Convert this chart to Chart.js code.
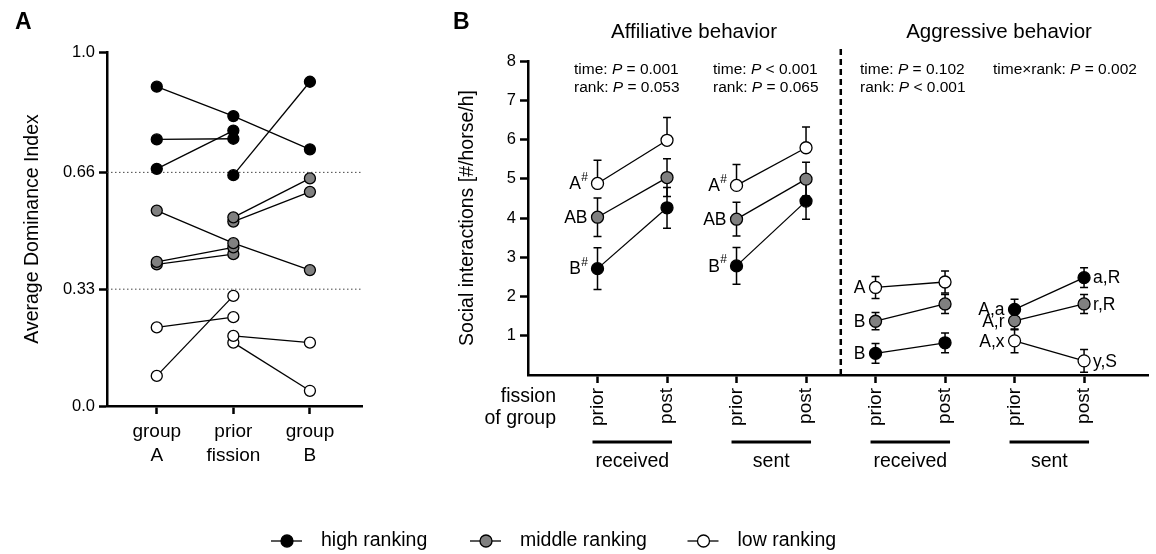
<!DOCTYPE html>
<html>
<head>
<meta charset="utf-8">
<title>Dominance and social interactions</title>
<script src="https://cdn.jsdelivr.net/npm/chart.js@4.4.1/dist/chart.umd.min.js"></script>
<style>
  body { margin: 0; background: #fff; }
  #wrap { position: relative; width: 1156px; height: 554px; }
  #wrap canvas { position: absolute; left: 0; top: 0; }
</style>
</head>
<body>
<div id="wrap">
  <canvas id="chartA" width="1156" height="554"></canvas>
  <canvas id="chartB" width="1156" height="554"></canvas>
</div>
<script>
// ---- Panel A: average dominance index per horse (group A / prior fission / group B) ----
const stagesA = [['group', 'A'], ['prior', 'fission'], ['group', 'B']];
const ticksA = [0, 0.33, 0.66, 1.0];
const thresholdsA = [0.33, 0.66];
// one row per horse, null = horse not in that group
const highA = [[0.902, 0.819, 0.725], [0.753, 0.755, null], [0.670, 0.778, null], [null, 0.652, 0.916]];
const middleA = [[0.552, 0.460, 0.384], [0.407, 0.448, null], [0.400, 0.429, null], [null, 0.533, 0.643], [null, 0.521, 0.605]];
const lowA = [[0.222, 0.251, null], [0.085, 0.311, null], [null, 0.198, 0.179], [null, 0.179, 0.043]];

// ---- Panel B: social interactions [#/horse/h], mean +- SE ----
// order: affiliative received, affiliative sent, aggressive received, aggressive sent (prior, post each)
const timesB = ['prior', 'post', 'prior', 'post', 'prior', 'post', 'prior', 'post'];
const positionsB = [1, 2, 3, 4, 5, 6, 7, 8];
const ticksB = [1, 2, 3, 4, 5, 6, 7, 8];
const highMeans = [2.71, 4.26, 2.78, 4.43, 0.55, 0.82, 1.67, 2.48];
const highErr = [0.53, 0.52, 0.47, 0.46, 0.25, 0.25, 0.26, 0.25];
const middleMeans = [4.02, 5.03, 3.97, 4.99, 1.37, 1.81, 1.38, 1.81];
const middleErr = [0.49, 0.48, 0.43, 0.43, 0.22, 0.24, 0.23, 0.24];
const lowMeans = [4.88, 5.98, 4.83, 5.79, 2.23, 2.37, 0.87, 0.36];
const lowErr = [0.59, 0.58, 0.53, 0.53, 0.28, 0.28, 0.30, 0.29];
// low ranking affiliative bars are only drawn upwards
const lowUpOnly = [true, true, true, true, false, false, false, false];
const highLetters = ['B#', '', 'B#', '', 'B', '', 'A,a', 'a,R'];
const middleLetters = ['AB', '', 'AB', '', 'B', '', 'A,r', 'r,R'];
const lowLetters = ['A#', '', 'A#', '', 'A', '', 'A,x', 'y,S'];
const groupLabels = ['received', 'sent', 'received', 'sent'];
const behaviours = ['Affiliative behavior', 'Aggressive behavior'];

const rankNames = ['high ranking', 'middle ranking', 'low ranking'];
const rankFills = ['#000000', '#808080', '#ffffff'];

const FONT = "'Liberation Sans', Arial, Helvetica, sans-serif";

// ---------- chart A ----------
function horseSets(horses, fill) {
  return horses.map(h => ({
    data: h.map((v, i) => (v === null ? null : { x: i + 1, y: v })).filter(p => p),
    borderColor: '#000',
    borderWidth: 1.3,
    pointBackgroundColor: fill,
    pointBorderColor: '#000',
    pointBorderWidth: 1.3,
    pointRadius: 5.5
  }));
}

const xMinA = 0.35, xMaxA = 3.68;
const dottedA = thresholdsA.map(t => ({
  data: [{ x: xMinA, y: t }, { x: xMaxA, y: t }],
  borderColor: '#444',
  borderWidth: 1,
  borderDash: [1.5, 2.5],
  pointRadius: 0
}));

const panelLabelA = {
  id: 'panelLabelA',
  afterDraw(chart) {
    const ctx = chart.ctx;
    ctx.save();
    ctx.fillStyle = '#000';
    ctx.font = 'bold 23px ' + FONT;
    ctx.textBaseline = 'middle';
    ctx.fillText('A', 15, 23);
    ctx.restore();
  }
};

new Chart(document.getElementById('chartA'), {
  type: 'line',
  data: {
    datasets: [...horseSets(lowA, rankFills[2]), ...horseSets(middleA, rankFills[1]),
               ...horseSets(highA, rankFills[0]), ...dottedA]
  },
  options: {
    responsive: false,
    animation: false,
    layout: { padding: { top: 52, left: 21, right: 794, bottom: 0 } },
    plugins: { legend: { display: false }, tooltip: { enabled: false } },
    scales: {
      x: {
        type: 'linear', min: xMinA, max: xMaxA,
        afterBuildTicks: s => { s.ticks = [1, 2, 3].map(v => ({ value: v })); },
        afterFit: s => { s.height = 148; },
        ticks: {
          autoSkip: false, maxRotation: 0, padding: 5, color: '#000',
          font: { family: FONT, size: 19, lineHeight: 1.3 },
          callback: (v, i) => stagesA[i]
        },
        grid: { drawOnChartArea: false, drawTicks: true, tickLength: 8, tickWidth: 2.5, tickColor: '#000' },
        border: { color: '#000', width: 2.5 }
      },
      y: {
        min: 0, max: 1,
        afterBuildTicks: s => { s.ticks = ticksA.map(v => ({ value: v })); },
        afterFit: s => { s.width = 86; },
        ticks: {
          padding: 4, color: '#000',
          font: { family: FONT, size: 16.5 },
          callback: v => (v === 0 ? '0.0' : v === 1 ? '1.0' : String(v))
        },
        grid: { drawOnChartArea: false, drawTicks: true, tickLength: 8, tickWidth: 2.5, tickColor: '#000' },
        border: { color: '#000', width: 2.5 },
        title: { display: true, text: 'Average Dominance Index', color: '#000', padding: 0,
                 font: { family: FONT, size: 19.5 } }
      }
    }
  },
  plugins: [panelLabelA]
});

// ---------- chart B ----------
const ranksB = [
  { means: highMeans, errs: highErr, upOnly: null, letters: highLetters, fill: rankFills[0] },
  { means: middleMeans, errs: middleErr, upOnly: null, letters: middleLetters, fill: rankFills[1] },
  { means: lowMeans, errs: lowErr, upOnly: lowUpOnly, letters: lowLetters, fill: rankFills[2] }
];

const datasetsB = [];
ranksB.forEach(rk => {
  for (let p = 0; p < 4; p++) {
    const idx = [2 * p, 2 * p + 1];
    datasetsB.push({
      data: idx.map(i => ({ x: positionsB[i], y: rk.means[i] })),
      errors: idx.map(i => rk.errs[i]),
      upOnly: idx.map(i => (rk.upOnly ? rk.upOnly[i] : false)),
      borderColor: '#000',
      borderWidth: 1.3,
      pointBackgroundColor: rk.fill,
      pointBorderColor: '#000',
      pointBorderWidth: 1.3,
      pointRadius: 6
    });
  }
});

// draws text where parts are [string, italic]
function richText(ctx, parts, x, y, size) {
  let cx = x;
  parts.forEach(([t, it]) => {
    ctx.font = (it ? 'italic ' : '') + size + 'px ' + FONT;
    ctx.fillText(t, cx, y);
    cx += ctx.measureText(t).width;
  });
}

const errorBars = {
  id: 'errorBars',
  beforeDatasetsDraw(chart) {
    const { ctx, scales: { x, y } } = chart;
    ctx.save();
    ctx.strokeStyle = '#000';
    ctx.lineWidth = 1.5;
    chart.data.datasets.forEach(ds => {
      if (!ds.errors) return;
      ds.data.forEach((p, i) => {
        const e = ds.errors[i];
        const px = x.getPixelForValue(p.x);
        const lo = ds.upOnly[i] ? p.y : Math.max(p.y - e, 0);
        const top = y.getPixelForValue(p.y + e);
        const bot = y.getPixelForValue(lo);
        ctx.beginPath();
        ctx.moveTo(px, top); ctx.lineTo(px, bot);
        ctx.moveTo(px - 4, top); ctx.lineTo(px + 4, top);
        if (!ds.upOnly[i] && lo > 0) { ctx.moveTo(px - 4, bot); ctx.lineTo(px + 4, bot); }
        ctx.stroke();
      });
    });
    ctx.restore();
  }
};

const annotationsB = {
  id: 'annotationsB',
  afterDraw(chart) {
    const { ctx, scales: { x, y } } = chart;
    ctx.save();
    ctx.fillStyle = '#000';
    ctx.strokeStyle = '#000';

    // panel label
    ctx.font = 'bold 23px ' + FONT;
    ctx.textBaseline = 'middle';
    ctx.textAlign = 'left';
    ctx.fillText('B', 453, 23);

    // section titles
    ctx.font = '20.5px ' + FONT;
    ctx.textAlign = 'center';
    ctx.fillText(behaviours[0], 694, 32);
    ctx.fillText(behaviours[1], 999, 32);

    // separator between affiliative and aggressive
    const sx = x.getPixelForValue(4.5);
    ctx.lineWidth = 2.5;
    ctx.setLineDash([6, 4]);
    ctx.beginPath();
    ctx.moveTo(sx, 49);
    ctx.lineTo(sx, y.getPixelForValue(0));
    ctx.stroke();
    ctx.setLineDash([]);

    // statistics
    ctx.textAlign = 'left';
    const st = 15.5;
    richText(ctx, [['time: ', 0], ['P', 1], [' = 0.001', 0]], 574, 70, st);
    richText(ctx, [['rank: ', 0], ['P', 1], [' = 0.053', 0]], 574, 88, st);
    richText(ctx, [['time: ', 0], ['P', 1], [' < 0.001', 0]], 713, 70, st);
    richText(ctx, [['rank: ', 0], ['P', 1], [' = 0.065', 0]], 713, 88, st);
    richText(ctx, [['time: ', 0], ['P', 1], [' = 0.102', 0]], 860, 70, st);
    richText(ctx, [['rank: ', 0], ['P', 1], [' < 0.001', 0]], 860, 88, st);
    richText(ctx, [['time\u00d7rank: ', 0], ['P', 1], [' = 0.002', 0]], 993, 70, st);

    // significance letters next to the points
    ranksB.forEach(rk => rk.letters.forEach((txt, i) => {
      if (!txt) return;
      const px = x.getPixelForValue(positionsB[i]);
      const py = y.getPixelForValue(rk.means[i]);
      const sup = txt.endsWith('#');
      const base = sup ? txt.slice(0, -1) : txt;
      ctx.font = '17.5px ' + FONT;
      const bw = ctx.measureText(base).width;
      ctx.font = '12px ' + FONT;
      const sw = sup ? ctx.measureText('#').width : 0;
      const left = timesB[i] === 'prior';
      const x0 = left ? px - 10 - sw - bw : px + 9;
      ctx.textAlign = 'left';
      ctx.font = '17.5px ' + FONT;
      ctx.fillText(base, x0, py + 1);
      if (sup) {
        ctx.font = '12px ' + FONT;
        ctx.fillText('#', x0 + bw + 0.5, py - 6);
      }
    }));

    // x axis captions
    ctx.font = '19.5px ' + FONT;
    ctx.textAlign = 'right';
    ctx.fillText('fission', 556, 397);
    ctx.fillText('of group', 556, 419);

    ctx.textAlign = 'center';
    ctx.lineWidth = 3;
    for (let p = 0; p < 4; p++) {
      const a = x.getPixelForValue(positionsB[2 * p]) - 5;
      const b = x.getPixelForValue(positionsB[2 * p + 1]) + 5;
      ctx.beginPath();
      ctx.moveTo(a, 442);
      ctx.lineTo(b, 442);
      ctx.stroke();
      ctx.fillText(groupLabels[p], (a + b) / 2, 462);
    }

    // legend
    const legendX = [287, 486, 703.5];
    const ly = 541;
    rankNames.forEach((name, r) => {
      const cx = legendX[r];
      ctx.lineWidth = 1.3;
      ctx.beginPath();
      ctx.moveTo(cx - 16, ly);
      ctx.lineTo(cx + 15, ly);
      ctx.stroke();
      ctx.beginPath();
      ctx.arc(cx, ly, 6, 0, Math.PI * 2);
      ctx.fillStyle = rankFills[r];
      ctx.fill();
      ctx.stroke();
      ctx.fillStyle = '#000';
      ctx.textAlign = 'left';
      ctx.font = '19.5px ' + FONT;
      ctx.fillText(name, cx + 34, ly);
    });
    ctx.restore();
  }
};

new Chart(document.getElementById('chartB'), {
  type: 'line',
  data: { datasets: datasetsB },
  options: {
    responsive: false,
    animation: false,
    layout: { padding: { top: 61, left: 456, right: 4, bottom: 0 } },
    plugins: { legend: { display: false }, tooltip: { enabled: false } },
    scales: {
      x: {
        type: 'linear', min: 0, max: 8.93,
        afterBuildTicks: s => { s.ticks = ticksB.map(v => ({ value: v })); },
        afterFit: s => { s.height = 179; },
        ticks: {
          autoSkip: false, minRotation: 90, maxRotation: 90, padding: 5, color: '#000',
          font: { family: FONT, size: 19 },
          callback: (v, i) => timesB[i]
        },
        grid: { drawOnChartArea: false, drawTicks: true, tickLength: 8, tickWidth: 2.5, tickColor: '#000' },
        border: { color: '#000', width: 2.5 }
      },
      y: {
        min: 0, max: 8,
        afterBuildTicks: s => { s.ticks = [1, 2, 3, 4, 5, 6, 7, 8].map(v => ({ value: v })); },
        afterFit: s => { s.width = 72; },
        ticks: { padding: 4, color: '#000', font: { family: FONT, size: 16.5 } },
        grid: { drawOnChartArea: false, drawTicks: true, tickLength: 8, tickWidth: 2.5, tickColor: '#000' },
        border: { color: '#000', width: 2.5 },
        title: { display: true, text: 'Social interactions [#/horse/h]', color: '#000', padding: 0,
                 font: { family: FONT, size: 19.5 } }
      }
    }
  },
  plugins: [errorBars, annotationsB]
});
</script>
</body>
</html>
